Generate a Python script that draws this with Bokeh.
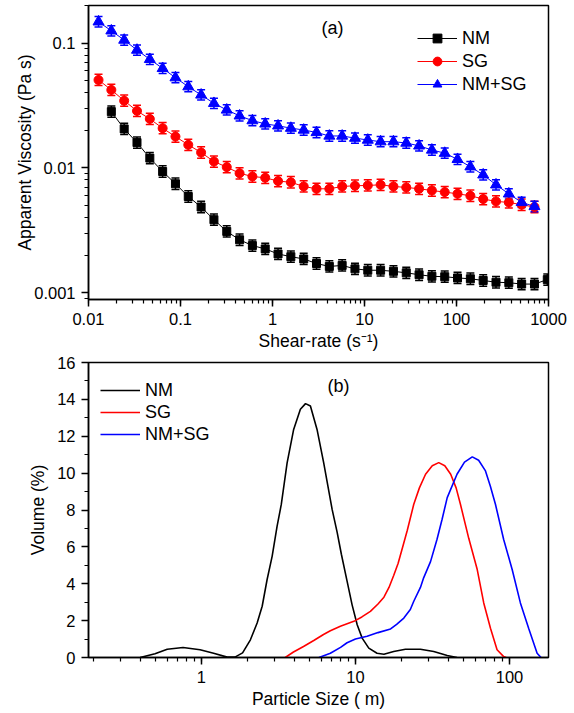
from bokeh.plotting import figure
from bokeh.models import (ColumnDataSource, Range1d, Whisker, TeeHead, Legend, LegendItem,
                          Label, CustomJSTickFormatter, SingleIntervalTicker)
from bokeh.layouts import column
from bokeh.embed import file_html
from bokeh.resources import INLINE

FONT = "Liberation Sans"

# ---------------- (a) viscosity data ----------------
shear_rate = [0.01285, 0.01771, 0.02442, 0.03366, 0.04640, 0.06395, 0.08815, 0.1215, 0.1675,
              0.2309, 0.3183, 0.4387, 0.6046, 0.8333, 1.149, 1.583, 2.183, 3.009, 4.147,
              5.715, 7.877, 10.86, 14.97, 20.63, 28.44, 39.20, 54.03, 74.47, 102.6, 141.5,
              195.0, 268.8, 370.5, 510.7, 704.0, 970.3]
# NM measured at shear_rate[1:36], SG and NM+SG at shear_rate[0:35]
visc_nm = [0.02821, 0.02051, 0.01593, 0.01196, 0.00934, 0.00745, 0.00589, 0.00485, 0.00384,
           0.00309, 0.00265, 0.00238, 0.00224, 0.00204, 0.00194, 0.00186, 0.00171, 0.00162,
           0.00165, 0.00155, 0.00151, 0.00151, 0.00148, 0.00144, 0.00139, 0.00135, 0.00134,
           0.00131, 0.00129, 0.00125, 0.00121, 0.00120, 0.00117, 0.00117, 0.00127]
visc_sg = [0.0506, 0.0421, 0.0345, 0.02858, 0.02466, 0.02077, 0.01780, 0.01528, 0.01326,
           0.01123, 0.01013, 0.00904, 0.00852, 0.00832, 0.00783, 0.00766, 0.00709, 0.00679,
           0.00679, 0.00709, 0.00718, 0.00722, 0.00731, 0.00709, 0.00696, 0.00679, 0.00658,
           0.00639, 0.00619, 0.00597, 0.00562, 0.00538, 0.00528, 0.00506, 0.00485]
visc_nmsg = [0.1481, 0.1254, 0.1057, 0.0879, 0.0741, 0.0627, 0.0528, 0.0447, 0.0384, 0.0329,
             0.0291, 0.0261, 0.0239, 0.0225, 0.0217, 0.0208, 0.0201, 0.0192, 0.0180, 0.0180,
             0.0173, 0.0167, 0.0162, 0.0162, 0.0158, 0.0150, 0.0139, 0.0131, 0.0117, 0.0102,
             0.00879, 0.00731, 0.00619, 0.00528, 0.00490]
err_rel_nm = 0.11
err_rel_sg = 0.11
err_rel_nmsg = 0.10

# ---------------- (b) particle size data ----------------
size_nm = [0.40, 0.50, 0.60, 0.76, 0.98, 1.20, 1.47, 1.65, 1.85, 2.08, 2.30, 2.48, 2.67, 2.88,
           3.10, 3.30, 3.60, 3.97, 4.39, 4.74, 5.10, 5.63, 6.22, 7.06, 7.60, 8.10, 8.82, 9.50,
           10.26, 11.05, 12.2, 13.8, 15.3, 17.7, 21.1, 26.4, 32.2, 39.4, 45.6]
vol_nm = [0, 0.2, 0.45, 0.54, 0.42, 0.23, 0.02, 0.02, 0.25, 0.96, 1.87, 2.78, 4.23, 5.5,
          7.13, 8.3, 10.56, 12.37, 13.46, 13.77, 13.64, 12.37, 10.56, 8.02, 6.8, 5.6, 4.14, 2.87,
          1.78, 1.05, 0.51, 0.23, 0.18, 0.33, 0.45, 0.45, 0.33, 0.11, 0]
size_sg = [3.5, 3.96, 4.6, 5.36, 6.2, 6.87, 7.98, 9.76, 11.0, 12.5, 14.0, 15.3, 16.5, 17.7,
           18.9, 20.1, 21.7, 23.9, 26.0, 28.5, 31.5, 34.7, 38.0, 41.5, 45.0, 48.0, 54.4, 61.7,
           68.0, 75.2, 83.0, 91.6, 95.0]
vol_sg = [0, 0.3, 0.6, 0.92, 1.25, 1.45, 1.69, 1.96, 2.2, 2.5, 2.9, 3.27, 3.8, 4.45,
          5.1, 5.9, 6.9, 8.31, 9.2, 9.94, 10.4, 10.57, 10.4, 9.94, 9.2, 8.31, 6.45, 4.77,
          2.96, 1.59, 0.42, 0.05, 0]
size_nmsg = [5.8, 6.87, 8.0, 8.82, 10.0, 11.9, 14.0, 16.9, 18.5, 20.6, 22.7, 23.9, 26.4, 27.7,
             30.7, 33.8, 36.5, 39.4, 45.6, 51.0, 57.3, 63.0, 69.8, 75.0, 81.0, 91.6, 104, 117.6,
             133, 151, 160]
vol_nmsg = [0, 0.23, 0.55, 0.8, 1.0, 1.15, 1.35, 1.55, 1.8, 2.14, 2.6, 3.05, 3.8, 4.32,
            5.2, 6.4, 7.5, 8.67, 9.94, 10.6, 10.88, 10.7, 10.12, 9.3, 8.31, 6.4, 4.77, 2.96,
            1.59, 0.23, 0]

BLACK, RED, BLUE = "#000000", "#ff0000", "#0000ff"


def style(p):
    p.grid.visible = False
    p.outline_line_color = "black"
    p.outline_line_width = 1.5
    p.background_fill_color = "white"
    p.border_fill_color = "white"
    for ax in (p.xaxis[0], p.yaxis[0]):
        ax.axis_line_width = 1.5
        ax.major_tick_line_width = 1.5
        ax.minor_tick_line_width = 1.2
        ax.major_tick_in = 0
        ax.major_tick_out = 7
        ax.minor_tick_in = 0
        ax.minor_tick_out = 4
        ax.major_label_text_font = FONT
        ax.major_label_text_font_size = "16.5px"
        ax.major_label_text_color = "black"
        ax.axis_label_text_font = FONT
        ax.axis_label_text_font_size = "17.5px"
        ax.axis_label_text_font_style = "normal"
        ax.axis_label_text_color = "black"
        ax.major_label_standoff = 6
        ax.axis_label_standoff = 4


fmt = CustomJSTickFormatter(code="return Number(tick.toPrecision(6)).toString();")

# ---------------- figure (a) ----------------
p1 = figure(width=574, height=353, x_axis_type="log", y_axis_type="log",
            x_range=Range1d(0.01, 1000), y_range=Range1d(0.00088, 0.2),
            output_backend="svg", toolbar_location=None,
            min_border_left=88, min_border_right=26, min_border_top=5, min_border_bottom=53)
style(p1)
p1.xaxis.formatter = fmt
p1.yaxis.formatter = fmt
p1.xaxis.axis_label = "Shear-rate (s\u207b\u00b9)"
p1.yaxis.axis_label = "Apparent Viscosity (Pa s)"
p1.xaxis.axis_label_standoff = 3
p1.yaxis.axis_label_standoff = -4

series_a = [
    ("NM", shear_rate[1:36], visc_nm, err_rel_nm, BLACK, "square", 8),
    ("SG", shear_rate[0:35], visc_sg, err_rel_sg, RED, "circle", 9),
    ("NM+SG", shear_rate[0:35], visc_nmsg, err_rel_nmsg, BLUE, "triangle", 11),
]
items_a = []
for name, xs, ys, er, col, mk, sz in series_a:
    src = ColumnDataSource(dict(x=xs, y=ys,
                                upper=[v * (1 + er) for v in ys],
                                lower=[v / (1 + er) for v in ys]))
    ln = p1.line("x", "y", source=src, line_color=col, line_width=1)
    w = Whisker(source=src, base="x", upper="upper", lower="lower",
                line_color=col, line_width=1.5,
                upper_head=TeeHead(size=8, line_color=col, line_width=1.5),
                lower_head=TeeHead(size=8, line_color=col, line_width=1.5))
    p1.add_layout(w)
    sc = p1.scatter("x", "y", source=src, marker=mk, size=sz, fill_color=col, line_color=col)
    items_a.append(LegendItem(label=name, renderers=[ln, sc]))

leg1 = Legend(items=items_a, location=(329, 204), margin=0, padding=3, spacing=1,
              glyph_width=40, glyph_height=22, label_height=22, label_standoff=5,
              label_text_font=FONT, label_text_font_size="18px", label_text_color="black",
              border_line_color=None, background_fill_alpha=0)
p1.add_layout(leg1)
p1.add_layout(Label(x=4.49, y=0.132, text="(a)", text_font=FONT, text_font_size="18px",
                    text_align="center", text_baseline="middle", text_color="black"))

# ---------------- figure (b) ----------------
p2 = figure(width=574, height=360, x_axis_type="log",
            x_range=Range1d(0.185, 179), y_range=Range1d(0, 16),
            output_backend="svg", toolbar_location=None,
            min_border_left=88, min_border_right=26, min_border_top=9, min_border_bottom=56)
style(p2)
p2.xaxis.formatter = fmt
p2.yaxis.ticker = SingleIntervalTicker(interval=2, num_minor_ticks=2)
p2.xaxis.axis_label = "Particle Size ( m)"
p2.yaxis.axis_label = "Volume (%)"
p2.yaxis.axis_label_standoff = 6
p2.xaxis.axis_label_standoff = 3

items_b = []
for name, xs, ys, col in [("NM", size_nm, vol_nm, BLACK), ("SG", size_sg, vol_sg, RED),
                          ("NM+SG", size_nmsg, vol_nmsg, BLUE)]:
    r = p2.line(xs, ys, line_color=col, line_width=1.6)
    items_b.append(LegendItem(label=name, renderers=[r]))

leg2 = Legend(items=items_b, location=(12, 212), margin=0, padding=3, spacing=0,
              glyph_width=40, glyph_height=22, label_height=22, label_standoff=5,
              label_text_font=FONT, label_text_font_size="18px", label_text_color="black",
              border_line_color=None, background_fill_alpha=0)
p2.add_layout(leg2)
p2.add_layout(Label(x=7.76, y=14.75, text="(b)", text_font=FONT, text_font_size="18px",
                    text_align="center", text_baseline="middle", text_color="black"))

layout = column(p1, p2, spacing=0)
open("out.html", "w").write(file_html(layout, INLINE))
